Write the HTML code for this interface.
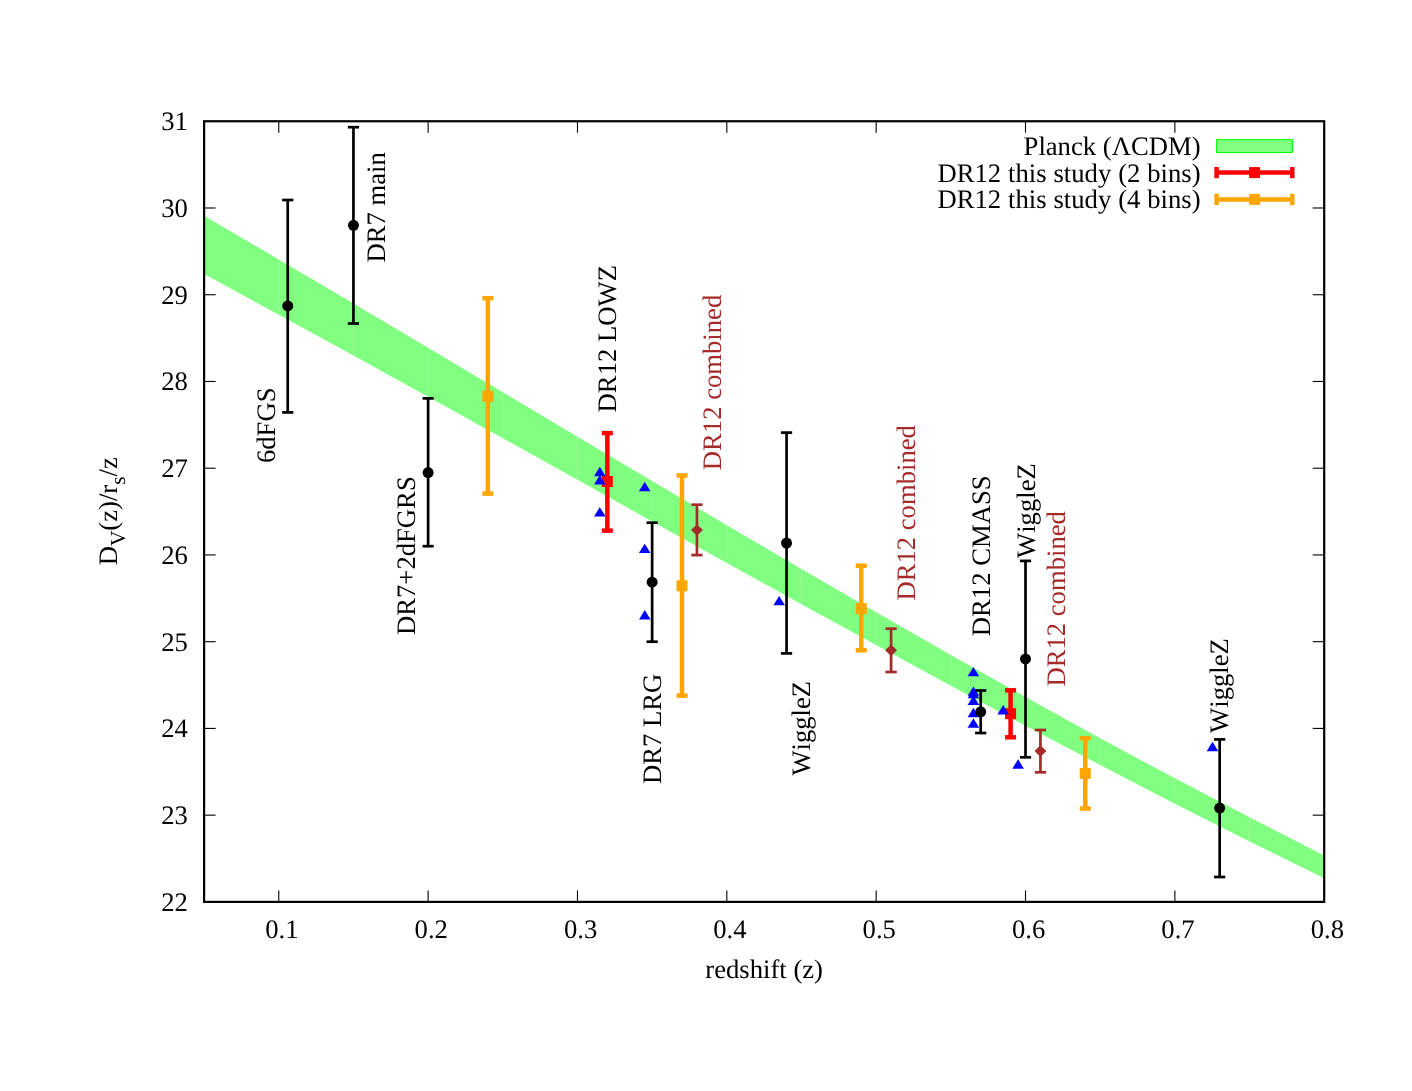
<!DOCTYPE html>
<html><head><meta charset="utf-8"><title>BAO distance ladder</title>
<style>html,body{margin:0;padding:0;background:#fff}svg{display:block;will-change:transform}text{font-family:"Liberation Serif",serif;font-size:26.67px;fill:#000;text-rendering:geometricPrecision;font-kerning:none}</style>
</head><body>
<svg width="1412" height="1091" viewBox="0 0 1412 1091">
<rect x="0" y="0" width="1412" height="1091" fill="#ffffff"/>
<g fill="#80ff80" stroke="none">
<polygon points="204.10,215.85 278.77,259.45 278.77,314.80 204.10,274.00"/>
<polygon points="278.77,259.45 353.45,303.55 353.45,355.60 278.77,314.80"/>
<polygon points="353.45,303.55 428.12,347.75 428.12,396.80 353.45,355.60"/>
<polygon points="428.12,347.75 502.79,392.25 502.79,438.20 428.12,396.80"/>
<polygon points="502.79,392.25 577.47,436.65 577.47,479.80 502.79,438.20"/>
<polygon points="577.47,436.65 652.14,481.05 652.14,521.40 577.47,479.80"/>
<polygon points="652.14,481.05 726.81,525.15 726.81,562.90 652.14,521.40"/>
<polygon points="726.81,525.15 801.49,568.95 801.49,604.20 726.81,562.90"/>
<polygon points="801.49,568.95 876.16,612.35 876.16,645.10 801.49,604.20"/>
<polygon points="876.16,612.35 950.83,655.05 950.83,685.70 876.16,645.10"/>
<polygon points="950.83,655.05 1025.51,697.05 1025.51,725.70 950.83,685.70"/>
<polygon points="1025.51,697.05 1100.18,738.25 1100.18,765.00 1025.51,725.70"/>
<polygon points="1100.18,738.25 1174.85,778.35 1174.85,803.70 1100.18,765.00"/>
<polygon points="1174.85,778.35 1249.53,817.35 1249.53,841.50 1174.85,803.70"/>
<polygon points="1249.53,817.35 1324.20,855.60 1324.20,878.15 1249.53,841.50"/>
</g>
<g stroke="#000" stroke-width="1.1" fill="none">
<line x1="278.77" y1="901.90" x2="278.77" y2="890.40"/>
<line x1="278.77" y1="121.25" x2="278.77" y2="132.75"/>
<line x1="428.12" y1="901.90" x2="428.12" y2="890.40"/>
<line x1="428.12" y1="121.25" x2="428.12" y2="132.75"/>
<line x1="577.47" y1="901.90" x2="577.47" y2="890.40"/>
<line x1="577.47" y1="121.25" x2="577.47" y2="132.75"/>
<line x1="726.81" y1="901.90" x2="726.81" y2="890.40"/>
<line x1="726.81" y1="121.25" x2="726.81" y2="132.75"/>
<line x1="876.16" y1="901.90" x2="876.16" y2="890.40"/>
<line x1="876.16" y1="121.25" x2="876.16" y2="132.75"/>
<line x1="1025.51" y1="901.90" x2="1025.51" y2="890.40"/>
<line x1="1025.51" y1="121.25" x2="1025.51" y2="132.75"/>
<line x1="1174.85" y1="901.90" x2="1174.85" y2="890.40"/>
<line x1="1174.85" y1="121.25" x2="1174.85" y2="132.75"/>
<line x1="204.10" y1="815.16" x2="215.60" y2="815.16"/>
<line x1="1324.20" y1="815.16" x2="1312.70" y2="815.16"/>
<line x1="204.10" y1="728.42" x2="215.60" y2="728.42"/>
<line x1="1324.20" y1="728.42" x2="1312.70" y2="728.42"/>
<line x1="204.10" y1="641.68" x2="215.60" y2="641.68"/>
<line x1="1324.20" y1="641.68" x2="1312.70" y2="641.68"/>
<line x1="204.10" y1="554.94" x2="215.60" y2="554.94"/>
<line x1="1324.20" y1="554.94" x2="1312.70" y2="554.94"/>
<line x1="204.10" y1="468.21" x2="215.60" y2="468.21"/>
<line x1="1324.20" y1="468.21" x2="1312.70" y2="468.21"/>
<line x1="204.10" y1="381.47" x2="215.60" y2="381.47"/>
<line x1="1324.20" y1="381.47" x2="1312.70" y2="381.47"/>
<line x1="204.10" y1="294.73" x2="215.60" y2="294.73"/>
<line x1="1324.20" y1="294.73" x2="1312.70" y2="294.73"/>
<line x1="204.10" y1="207.99" x2="215.60" y2="207.99"/>
<line x1="1324.20" y1="207.99" x2="1312.70" y2="207.99"/>
</g>
<g stroke="#ffa500" stroke-width="4.50" fill="none"><line x1="487.86" y1="298.20" x2="487.86" y2="493.60"/><line x1="482.36" y1="298.20" x2="493.36" y2="298.20"/><line x1="482.36" y1="493.60" x2="493.36" y2="493.60"/></g>
<rect x="482.36" y="390.80" width="11.00" height="11.00" fill="#ffa500"/>
<g stroke="#ffa500" stroke-width="4.50" fill="none"><line x1="682.01" y1="475.50" x2="682.01" y2="695.60"/><line x1="676.51" y1="475.50" x2="687.51" y2="475.50"/><line x1="676.51" y1="695.60" x2="687.51" y2="695.60"/></g>
<rect x="676.51" y="580.30" width="11.00" height="11.00" fill="#ffa500"/>
<g stroke="#ffa500" stroke-width="4.50" fill="none"><line x1="861.23" y1="565.70" x2="861.23" y2="650.30"/><line x1="855.73" y1="565.70" x2="866.73" y2="565.70"/><line x1="855.73" y1="650.30" x2="866.73" y2="650.30"/></g>
<rect x="855.73" y="603.10" width="11.00" height="11.00" fill="#ffa500"/>
<g stroke="#ffa500" stroke-width="4.50" fill="none"><line x1="1085.25" y1="738.20" x2="1085.25" y2="808.50"/><line x1="1079.75" y1="738.20" x2="1090.75" y2="738.20"/><line x1="1079.75" y1="808.50" x2="1090.75" y2="808.50"/></g>
<rect x="1079.75" y="767.90" width="11.00" height="11.00" fill="#ffa500"/>
<g stroke="#ff0000" stroke-width="4.50" fill="none"><line x1="607.34" y1="433.10" x2="607.34" y2="530.60"/><line x1="601.84" y1="433.10" x2="612.84" y2="433.10"/><line x1="601.84" y1="530.60" x2="612.84" y2="530.60"/></g>
<rect x="601.84" y="476.00" width="11.00" height="11.00" fill="#ff0000"/>
<g stroke="#ff0000" stroke-width="4.50" fill="none"><line x1="1010.57" y1="690.30" x2="1010.57" y2="737.30"/><line x1="1005.07" y1="690.30" x2="1016.07" y2="690.30"/><line x1="1005.07" y1="737.30" x2="1016.07" y2="737.30"/></g>
<rect x="1005.07" y="708.20" width="11.00" height="11.00" fill="#ff0000"/>
<polygon points="599.80,466.85 594.00,476.25 605.60,476.25" fill="#0000ff"/>
<polygon points="599.80,475.05 594.00,484.45 605.60,484.45" fill="#0000ff"/>
<polygon points="599.80,507.15 594.00,516.55 605.60,516.55" fill="#0000ff"/>
<polygon points="644.70,481.75 638.90,491.15 650.50,491.15" fill="#0000ff"/>
<polygon points="644.70,543.65 638.90,553.05 650.50,553.05" fill="#0000ff"/>
<polygon points="644.80,610.05 639.00,619.45 650.60,619.45" fill="#0000ff"/>
<polygon points="779.20,595.95 773.40,605.35 785.00,605.35" fill="#0000ff"/>
<polygon points="973.40,666.95 967.60,676.35 979.20,676.35" fill="#0000ff"/>
<polygon points="973.40,686.45 967.60,695.85 979.20,695.85" fill="#0000ff"/>
<polygon points="973.40,688.95 967.60,698.35 979.20,698.35" fill="#0000ff"/>
<polygon points="973.40,695.55 967.60,704.95 979.20,704.95" fill="#0000ff"/>
<polygon points="973.40,707.75 967.60,717.15 979.20,717.15" fill="#0000ff"/>
<polygon points="973.40,718.25 967.60,727.65 979.20,727.65" fill="#0000ff"/>
<polygon points="1003.20,705.05 997.40,714.45 1009.00,714.45" fill="#0000ff"/>
<polygon points="1018.10,759.25 1012.30,768.65 1023.90,768.65" fill="#0000ff"/>
<polygon points="1212.50,741.75 1206.70,751.15 1218.30,751.15" fill="#0000ff"/>
<g stroke="#000" stroke-width="2.70" fill="none"><line x1="287.73" y1="200.00" x2="287.73" y2="412.40"/><line x1="282.13" y1="200.00" x2="293.33" y2="200.00"/><line x1="282.13" y1="412.40" x2="293.33" y2="412.40"/></g>
<circle cx="287.73" cy="305.90" r="5.5" fill="#000"/>
<g stroke="#000" stroke-width="2.70" fill="none"><line x1="353.45" y1="127.20" x2="353.45" y2="323.50"/><line x1="347.85" y1="127.20" x2="359.05" y2="127.20"/><line x1="347.85" y1="323.50" x2="359.05" y2="323.50"/></g>
<circle cx="353.45" cy="225.30" r="5.5" fill="#000"/>
<g stroke="#000" stroke-width="2.70" fill="none"><line x1="428.12" y1="398.40" x2="428.12" y2="546.20"/><line x1="422.52" y1="398.40" x2="433.72" y2="398.40"/><line x1="422.52" y1="546.20" x2="433.72" y2="546.20"/></g>
<circle cx="428.12" cy="472.60" r="5.5" fill="#000"/>
<g stroke="#000" stroke-width="2.70" fill="none"><line x1="652.14" y1="522.70" x2="652.14" y2="641.70"/><line x1="646.54" y1="522.70" x2="657.74" y2="522.70"/><line x1="646.54" y1="641.70" x2="657.74" y2="641.70"/></g>
<circle cx="652.14" cy="582.20" r="5.5" fill="#000"/>
<g stroke="#000" stroke-width="2.70" fill="none"><line x1="786.55" y1="432.60" x2="786.55" y2="653.40"/><line x1="780.95" y1="432.60" x2="792.15" y2="432.60"/><line x1="780.95" y1="653.40" x2="792.15" y2="653.40"/></g>
<circle cx="786.55" cy="543.10" r="5.5" fill="#000"/>
<g stroke="#000" stroke-width="2.70" fill="none"><line x1="980.70" y1="690.50" x2="980.70" y2="733.00"/><line x1="975.10" y1="690.50" x2="986.30" y2="690.50"/><line x1="975.10" y1="733.00" x2="986.30" y2="733.00"/></g>
<circle cx="980.70" cy="711.80" r="5.5" fill="#000"/>
<g stroke="#000" stroke-width="2.70" fill="none"><line x1="1025.51" y1="560.90" x2="1025.51" y2="757.30"/><line x1="1019.91" y1="560.90" x2="1031.11" y2="560.90"/><line x1="1019.91" y1="757.30" x2="1031.11" y2="757.30"/></g>
<circle cx="1025.51" cy="658.90" r="5.5" fill="#000"/>
<g stroke="#000" stroke-width="2.70" fill="none"><line x1="1219.66" y1="739.40" x2="1219.66" y2="877.00"/><line x1="1214.06" y1="739.40" x2="1225.26" y2="739.40"/><line x1="1214.06" y1="877.00" x2="1225.26" y2="877.00"/></g>
<circle cx="1219.66" cy="808.10" r="5.5" fill="#000"/>
<g stroke="#a52a2a" stroke-width="2.70" fill="none"><line x1="696.94" y1="504.70" x2="696.94" y2="555.10"/><line x1="691.29" y1="504.70" x2="702.59" y2="504.70"/><line x1="691.29" y1="555.10" x2="702.59" y2="555.10"/></g>
<polygon points="696.94,525.30 701.94,530.00 696.94,534.70 691.94,530.00" fill="#a52a2a" stroke="#a52a2a" stroke-width="1.4" stroke-linejoin="round"/>
<g stroke="#a52a2a" stroke-width="2.70" fill="none"><line x1="891.09" y1="628.70" x2="891.09" y2="672.00"/><line x1="885.44" y1="628.70" x2="896.74" y2="628.70"/><line x1="885.44" y1="672.00" x2="896.74" y2="672.00"/></g>
<polygon points="891.09,645.50 896.09,650.20 891.09,654.90 886.09,650.20" fill="#a52a2a" stroke="#a52a2a" stroke-width="1.4" stroke-linejoin="round"/>
<g stroke="#a52a2a" stroke-width="2.70" fill="none"><line x1="1040.44" y1="730.00" x2="1040.44" y2="772.30"/><line x1="1034.79" y1="730.00" x2="1046.09" y2="730.00"/><line x1="1034.79" y1="772.30" x2="1046.09" y2="772.30"/></g>
<polygon points="1040.44,746.30 1045.44,751.00 1040.44,755.70 1035.44,751.00" fill="#a52a2a" stroke="#a52a2a" stroke-width="1.4" stroke-linejoin="round"/>
<rect x="204.10" y="121.25" width="1120.10" height="780.65" fill="none" stroke="#000" stroke-width="2.2"/>
<text x="265.22" y="937.6">0.1</text>
<text x="414.57" y="937.6">0.2</text>
<text x="563.92" y="937.6">0.3</text>
<text x="713.26" y="937.6">0.4</text>
<text x="862.61" y="937.6">0.5</text>
<text x="1011.96" y="937.6">0.6</text>
<text x="1161.30" y="937.6">0.7</text>
<text x="1310.65" y="937.6">0.8</text>
<text x="187.9" y="910.80" text-anchor="end">22</text>
<text x="187.9" y="824.06" text-anchor="end">23</text>
<text x="187.9" y="737.32" text-anchor="end">24</text>
<text x="187.9" y="650.58" text-anchor="end">25</text>
<text x="187.9" y="563.84" text-anchor="end">26</text>
<text x="187.9" y="477.11" text-anchor="end">27</text>
<text x="187.9" y="390.37" text-anchor="end">28</text>
<text x="187.9" y="303.63" text-anchor="end">29</text>
<text x="187.9" y="216.89" text-anchor="end">30</text>
<text x="187.9" y="130.15" text-anchor="end">31</text>
<text x="764.15" y="977.7" text-anchor="middle">redshift (z)</text>
<text transform="translate(116.8,565.3) rotate(-90)">D<tspan font-size="21.33px" dy="8">V</tspan><tspan dy="-8">(z)/r</tspan><tspan font-size="21.33px" dy="8">s</tspan><tspan dy="-8">/z</tspan></text>
<text transform="translate(274.70,463.10) rotate(-90)" fill="#000" style="fill:#000">6dFGS</text>
<text transform="translate(385.20,262.50) rotate(-90)" fill="#000" style="fill:#000">DR7 main</text>
<text transform="translate(415.40,635.00) rotate(-90)" fill="#000" style="fill:#000">DR7+2dFGRS</text>
<text transform="translate(616.10,412.40) rotate(-90)" fill="#000" style="fill:#000">DR12 LOWZ</text>
<text transform="translate(721.20,470.20) rotate(-90)" fill="#a52a2a" style="fill:#a52a2a">DR12 combined</text>
<text transform="translate(661.10,784.00) rotate(-90)" fill="#000" style="fill:#000">DR7 LRG</text>
<text transform="translate(810.10,775.60) rotate(-90)" fill="#000" style="fill:#000">WiggleZ</text>
<text transform="translate(915.00,600.60) rotate(-90)" fill="#a52a2a" style="fill:#a52a2a">DR12 combined</text>
<text transform="translate(990.10,636.20) rotate(-90)" fill="#000" style="fill:#000">DR12 CMASS</text>
<text transform="translate(1034.60,558.00) rotate(-90)" fill="#000" style="fill:#000">WiggleZ</text>
<text transform="translate(1064.60,686.60) rotate(-90)" fill="#a52a2a" style="fill:#a52a2a">DR12 combined</text>
<text transform="translate(1228.30,732.90) rotate(-90)" fill="#000" style="fill:#000">WiggleZ</text>
<text x="1200.6" y="155.1" text-anchor="end">Planck (ΛCDM)</text>
<text x="1200.6" y="181.6" text-anchor="end" word-spacing="0.27">DR12 this study (2 bins)</text>
<text x="1200.6" y="208.0" text-anchor="end" word-spacing="0.27">DR12 this study (4 bins)</text>
<rect x="1216.6" y="139.6" width="75.8" height="12.9" fill="#80ff80" stroke="#00ff00" stroke-width="1"/>
<g stroke="#ff0000" stroke-width="4.5" fill="none"><line x1="1216.60" y1="172.60" x2="1292.30" y2="172.60"/><line x1="1216.60" y1="167.00" x2="1216.60" y2="178.20"/><line x1="1292.30" y1="167.00" x2="1292.30" y2="178.20"/></g>
<rect x="1249.10" y="167.10" width="11.00" height="11.00" fill="#ff0000"/>
<g stroke="#ffa500" stroke-width="4.5" fill="none"><line x1="1216.60" y1="199.40" x2="1292.30" y2="199.40"/><line x1="1216.60" y1="193.80" x2="1216.60" y2="205.00"/><line x1="1292.30" y1="193.80" x2="1292.30" y2="205.00"/></g>
<rect x="1249.10" y="193.90" width="11.00" height="11.00" fill="#ffa500"/>
</svg>
</body></html>
